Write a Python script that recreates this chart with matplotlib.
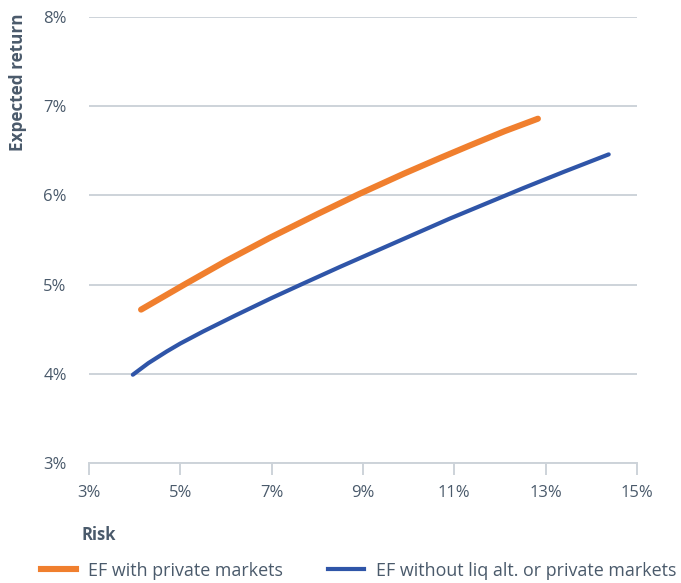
import matplotlib.pyplot as plt
from matplotlib.lines import Line2D
from matplotlib.ticker import FuncFormatter

plt.rcParams['font.family'] = ['Open Sans', 'DejaVu Sans']

# efficient frontier points (risk %, expected return %)
risk_private = [4.14, 5.12, 6.0, 6.96, 8.0, 8.89, 9.9, 10.69, 11.34, 12.1, 12.83]
ret_private = [4.72, 5.01, 5.265, 5.525, 5.79, 6.01, 6.245, 6.42, 6.56, 6.72, 6.86]

risk_trad = [3.96, 4.3, 4.7, 5.0, 5.5, 6.2, 7.0, 7.66, 8.5, 9.3, 10.1, 10.9,
             11.7, 12.5, 13.4, 14.38]
ret_trad = [3.99, 4.12, 4.25, 4.34, 4.475, 4.653, 4.85, 5.005, 5.20, 5.38,
            5.56, 5.74, 5.91, 6.08, 6.265, 6.46]

x_ticks = [3, 5, 7, 9, 11, 13, 15]
y_ticks = [3, 4, 5, 6, 7, 8]

orange = '#F07F2E'
blue = '#2F55A8'
text_col = '#4A5A6B'
grid_col = '#CDD3D9'

fig = plt.figure(figsize=(6.81, 5.83), dpi=100)
ax = fig.add_axes([0.1307, 0.2058, 0.8047, 0.765])

ax.plot(risk_private, ret_private, color=orange, lw=4.4, solid_capstyle='round',
        solid_joinstyle='round', zorder=3)
ax.plot(risk_trad, ret_trad, color=blue, lw=3.0, solid_capstyle='round',
        solid_joinstyle='round', zorder=3)

ax.set_xlim(3, 15)
ax.set_ylim(3, 8)
ax.set_xticks(x_ticks)
ax.set_yticks(y_ticks)
pct = FuncFormatter(lambda v, _: f'{v:.0f}%')
ax.xaxis.set_major_formatter(pct)
ax.yaxis.set_major_formatter(pct)

ax.grid(axis='y', color=grid_col, lw=1.4, zorder=0)
ax.set_axisbelow(True)
for s in ['top', 'right', 'left']:
    ax.spines[s].set_visible(False)
ax.spines['bottom'].set_color(grid_col)
ax.spines['bottom'].set_linewidth(1.4)

ax.tick_params(axis='x', length=8.5, width=1.4, color=grid_col, pad=7,
               labelsize=12, labelcolor=text_col)
ax.tick_params(axis='y', length=0, pad=16, labelsize=12, labelcolor=text_col)

fig.text(0.027, 0.976, 'Expected return', rotation=90, va='top', ha='center',
         fontsize=12.3, fontweight='bold', color=text_col)
fig.text(0.119, 0.083, 'Risk', va='center', ha='left',
         fontsize=12, fontweight='bold', color=text_col)

handles = [Line2D([], [], color=orange, lw=4.4),
           Line2D([], [], color=blue, lw=3.0)]
labels = ['EF with private markets', 'EF without liq alt. or private markets']
fig.legend(handles, labels, loc='center left', bbox_to_anchor=(0.036, 0.021),
           ncol=2, frameon=False, fontsize=12.9, handlelength=2.0,
           handletextpad=0.66, columnspacing=2.5, labelcolor=text_col)

fig.savefig('out.png', dpi=100)
